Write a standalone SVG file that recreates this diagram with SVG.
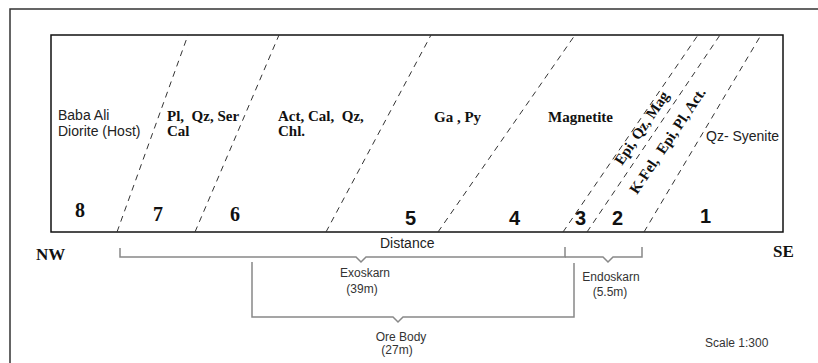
<svg xmlns="http://www.w3.org/2000/svg" width="818" height="363" viewBox="0 0 818 363">
<style>
.frame{fill:none;stroke:#333;stroke-width:1.5}
.box{fill:none;stroke:#111;stroke-width:1.5}
.dash{fill:none;stroke:#333;stroke-width:1;stroke-dasharray:6 5}
.br{fill:none;stroke:#888;stroke-width:1.5}
.a{font-family:"Liberation Sans",Arial,sans-serif;fill:#222}
.t{font-family:"Liberation Serif","Times New Roman",serif;font-weight:bold;fill:#111}
.nb{font-family:"Liberation Sans",Arial,sans-serif;font-weight:bold;font-size:20px;fill:#111}
.nt{font-family:"Liberation Serif","Times New Roman",serif;font-weight:bold;font-size:20px;fill:#111}
.s{font-family:"Liberation Sans",Arial,sans-serif;font-size:12px;fill:#333}
</style>
<rect x="10" y="9" width="830" height="370" fill="#fff" class="frame"/>
<rect x="51" y="35" width="732" height="197" class="box"/>
<g id="boundaries">
<line class="dash" x1="117" y1="232" x2="188" y2="35"/>
<line class="dash" x1="195" y1="232" x2="279" y2="35"/>
<line class="dash" x1="326" y1="232" x2="431" y2="35"/>
<line class="dash" x1="438" y1="232" x2="575" y2="35"/>
<line class="dash" x1="563" y1="232" x2="698" y2="35"/>
<line class="dash" x1="587" y1="232" x2="720" y2="35"/>
<line class="dash" x1="644" y1="232" x2="761" y2="35"/>
</g>
<g id="zone8">
<text class="a" font-size="14" x="58" y="120">Baba Ali</text>
<text class="a" font-size="14" x="58" y="136">Diorite (Host)</text>
<text class="nt" x="75" y="217">8</text>
</g>
<g id="zone7">
<text class="t" font-size="15" x="167" y="121" xml:space="preserve">Pl,  Qz, Ser</text>
<text class="t" font-size="15" x="167" y="136">Cal</text>
<text class="nt" x="153" y="221">7</text>
</g>
<g id="zone6">
<text class="t" font-size="15" x="278" y="121" xml:space="preserve">Act, Cal,  Qz,</text>
<text class="t" font-size="15" x="278" y="136">Chl.</text>
<text class="nt" x="230" y="221">6</text>
</g>
<g id="zone5">
<text class="t" font-size="15" x="434" y="122">Ga , Py</text>
<text class="nb" x="405" y="225">5</text>
</g>
<g id="zone4">
<text class="t" font-size="15" x="548" y="122">Magnetite</text>
<text class="nb" x="509" y="225">4</text>
</g>
<g id="zone3">
<text class="t" font-size="15" transform="translate(622,166) rotate(-56)">Epi, Qz, Mag</text>
<text class="nb" x="575" y="225">3</text>
</g>
<g id="zone2">
<text class="t" font-size="15" transform="translate(637,195) rotate(-56)" xml:space="preserve">K-Fel,  Epi, Pl, Act.</text>
<text class="nb" x="612" y="225">2</text>
</g>
<g id="zone1">
<text class="a" font-size="14" x="706" y="141">Qz- Syenite</text>
<text class="nb" x="700" y="223">1</text>
</g>
<g id="labels">
<text class="t" font-size="17" x="36" y="260">NW</text>
<text class="t" font-size="17" x="773" y="257">SE</text>
<text class="a" font-size="14" x="380" y="248">Distance</text>
<text class="s" x="705" y="347">Scale 1:300</text>
</g>
<g id="connectors">
<path class="br" d="M120,248 V257 H356 L361,262 L366,257 H565 V247"/>
<path class="br" d="M565,257 H603 L608,262 L613,257 H642 V247"/>
<path class="br" d="M252,262 V317 H393 L398,322 L403,317 H574 V263"/>
</g>
<g id="exoskarn">
<text class="s" x="365" y="277" text-anchor="middle">Exoskarn</text>
<text class="s" x="362" y="293" text-anchor="middle">(39m)</text>
</g>
<g id="endoskarn">
<text class="s" x="611" y="281" text-anchor="middle">Endoskarn</text>
<text class="s" x="610" y="296" text-anchor="middle">(5.5m)</text>
</g>
<g id="orebody">
<text class="s" x="401" y="341" text-anchor="middle">Ore Body</text>
<text class="s" x="397" y="354" text-anchor="middle">(27m)</text>
</g>
</svg>
